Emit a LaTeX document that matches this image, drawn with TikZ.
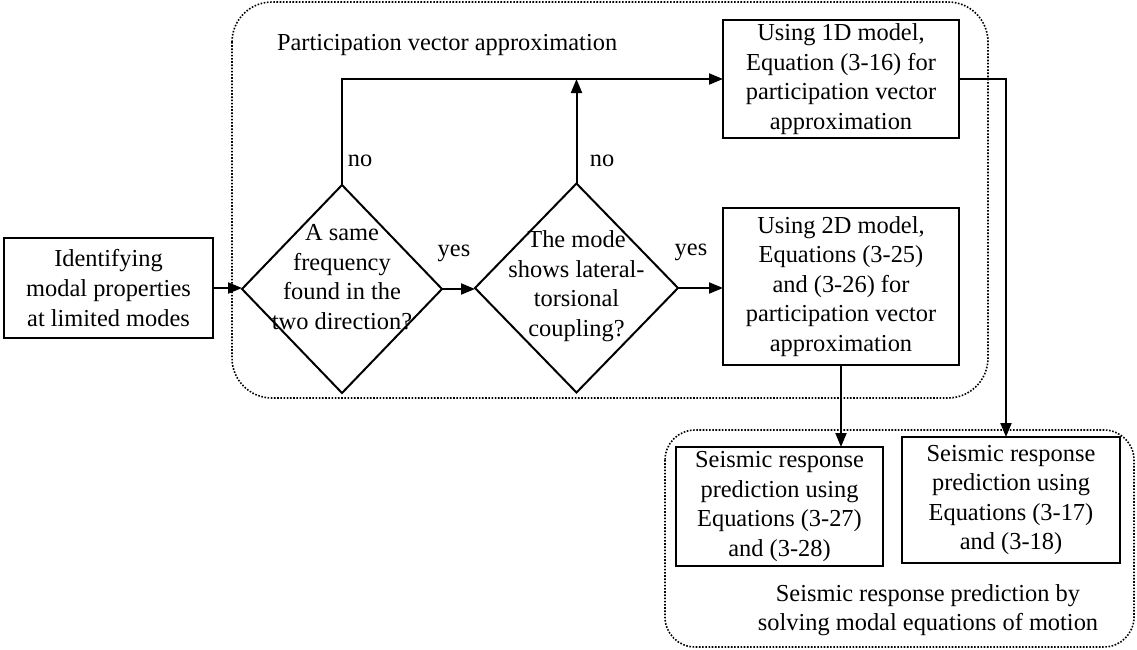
\documentclass[tikz,border=0pt]{standalone}
\usepackage{fontspec}
\setmainfont{Liberation Serif}
\usetikzlibrary{arrows.meta,shapes.geometric}
\begin{document}
\begin{tikzpicture}[x=0.5pt,y=-0.5pt,
  font=\fontsize{12.2}{14.8}\selectfont,
  every node/.style={inner sep=0pt,outer sep=0pt},
  procbox/.style={draw,line width=1pt,rectangle,align=center},
  decision/.style={draw,line width=1pt,diamond,shape aspect=1},
  txt/.style={align=center},
  arr/.style={line width=1pt,-{Triangle[length=7pt,width=5.5pt]}},
  groupbox/.style={line width=0.8pt,dash pattern=on 0.8pt off 0.8pt},
]
\useasboundingbox (0,0) rectangle (1137,649);

% dotted group frames
\draw[groupbox,rounded corners=20pt] (232,2) rectangle (988,398);
\draw[groupbox,rounded corners=15pt] (665,430) rectangle (1134,647);

\node[anchor=base west] (gtop) at (277,50) {Participation vector approximation};
\node[txt] (gbot) at (928,610) {Seismic response prediction by\\solving modal equations of motion};

% process boxes
\node[procbox,minimum width=104.5pt,minimum height=50pt] (ident) at (108.5,288)
  {Identifying\\modal properties\\at limited modes};
\node[procbox,minimum width=118pt,minimum height=59pt] (b1d) at (841,79)
  {Using 1D model,\\Equation (3-16) for\\participation vector\\approximation};
\node[procbox,minimum width=118pt,minimum height=78.5pt] (b2d) at (841,286.5)
  {Using 2D model,\\Equations (3-25)\\and (3-26) for\\participation vector\\approximation};
\node[procbox,minimum width=103.5pt,minimum height=59.5pt] (sA) at (779.5,506.5)
  {Seismic response\\prediction using\\Equations (3-27)\\and (3-28)};
\node[procbox,minimum width=109pt,minimum height=63pt] (sB) at (1011,500)
  {Seismic response\\prediction using\\Equations (3-17)\\and (3-18)};

% decisions
\node[decision,minimum width=100pt,minimum height=104pt] (d1) at (342,289) {};
\node[txt] (d1t) at (342,277) {A same\\frequency\\found in the\\two direction?};
\node[decision,minimum width=101.5pt,minimum height=104.5pt] (d2) at (576.5,288) {};
\node[txt] (d2t) at (576.5,286) {The mode\\shows lateral-\\torsional\\coupling?};

% connectors
\draw[arr] (ident.east) -- (ident.east -| d1.west);
\draw[arr] (d1.east) -- (d1.east -| d2.west);
\draw[arr] (d2.east) -- (d2.east -| b2d.west);
\draw[arr] (d1.north) |- (b1d.west);
\draw[arr] (d2.north) -- (d2.north |- b1d.west);
\draw[arr] (b2d.south) -- (b2d.south |- sA.north);
\draw[arr] (b1d.east) -| ([xshift=-2.5pt]sB.north);

% branch labels
\node (no1) at (360,161) {no};
\node (no2) at (602,161) {no};
\node (yes1) at (454,253) {yes};
\node (yes2) at (691,252) {yes};
\end{tikzpicture}
\end{document}
